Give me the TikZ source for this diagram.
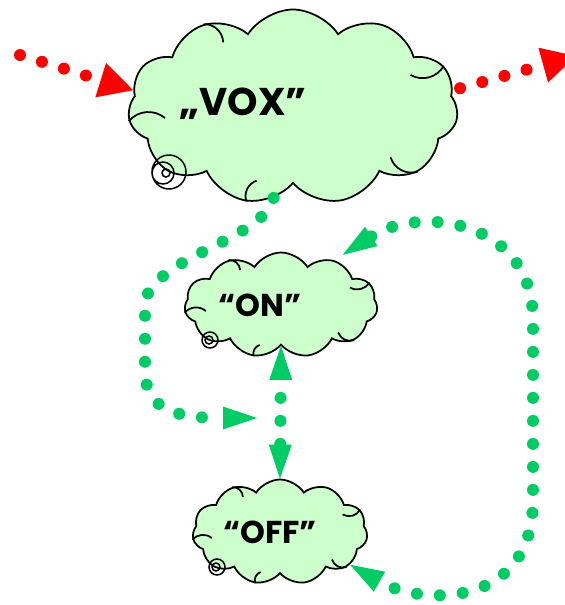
\documentclass[tikz,border=0pt]{standalone}
\usepackage{fontspec}
\setmainfont{Poppins}
\usetikzlibrary{shapes.symbols,arrows.meta,calc}

\definecolor{cloudfill}{HTML}{CCFFCC}
\definecolor{dotgreen}{HTML}{00CC66}
\definecolor{dotred}{HTML}{FF0000}

\begin{document}
\begin{tikzpicture}[x=0.2mm, y=-0.2mm,
    cloudbox/.style={cloud, cloud puffs=11, cloud puff arc=115, cloud ignores aspect,
        draw=black, line width=0.35mm, fill=cloudfill, inner sep=0pt},
    bigtext/.style={font=\bfseries\fontsize{22}{22}\selectfont},
    smalltext/.style={font=\bfseries\fontsize{18}{18}\selectfont},
    greentip/.tip={Triangle[length=6.8mm, width=4.6mm, line width=0pt]},
    redtip/.tip={Triangle[length=6.8mm, width=7.2mm, line width=0pt]},
    dotline/.style={line width=2.4mm, line cap=round, dash pattern=on 0pt off 4.6mm},
    reddots/.style={dotline, draw=dotred, -redtip},
    greendots/.style={dotline, draw=dotgreen},
    innerarc/.style={line width=0.35mm, bend left=45}]
    \useasboundingbox (0,0) rectangle (565,605);

    % clouds
    \node [cloudbox, minimum width=66mm, minimum height=39mm] (vox) at (293,107) {};
    \node [bigtext] (voxtext) at (243,104) {„VOX”};
    \draw [line width=0.3mm] (169,172) circle (17) (163,173) circle (11) (166,173) circle (4);

    \node [cloudbox, minimum width=38.6mm, minimum height=21mm] (on) at (281,305) {};
    \node [smalltext] (ontext) at (260,305) {“ON”};
    \draw [line width=0.3mm] (210,340) circle (8) (209,340) circle (4);

    \node [cloudbox, minimum width=35mm, minimum height=21mm] (off) at (280,532) {};
    \node [smalltext] (offtext) at (270,532) {“OFF”};
    \draw [line width=0.3mm] (217,567) circle (8) (216,567) circle (4);

    % inner arcs of the puffs
    \foreach \c in {vox,on,off}
        \foreach \k in {2,4,6,8,10}
            \draw [innerarc] (\c.puff \k) to ($(\c.puff \k)!0.22!(\c.center)$);

    % red in and out
    \coordinate (redstart) at (20,55);
    \coordinate (redend) at (576,56);
    \draw [reddots] (redstart) -- (vox.174);
    \draw [reddots, shorten <=1.5mm] (vox.6) -- (redend);

    % green loops
    \coordinate (loopend) at (257,418);
    \draw [greendots, -greentip] (vox.258) .. controls (262,240) and (160,255) .. (145,300)
        -- (145,370) .. controls (145,412) and (180,418) .. (loopend);
    \draw [greendots, dash phase=1mm, greentip-greentip] (on.south) -- (off.north);
    \draw [greendots, greentip-greentip, shorten <=2mm] (on.40) .. controls (420,205) and (533,220) .. (533,320)
        -- (533,500) .. controls (533,610) and (420,605) .. (off.-25);
\end{tikzpicture}
\end{document}
